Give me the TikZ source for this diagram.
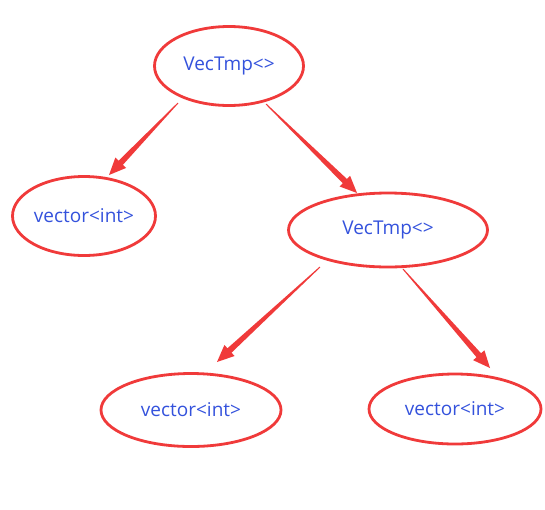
\documentclass[tikz,border=0pt]{standalone}
\usepackage{fontspec}
\setmainfont{Open Sans}
\usetikzlibrary{shapes.geometric,calc}
\definecolor{lred}{RGB}{240,58,58}
\definecolor{tblue}{RGB}{52,82,220}
\begin{document}
\begin{tikzpicture}[x=1pt,y=-1pt,
  oval/.style={ellipse,draw=lred,line width=2.8pt,inner sep=0pt,text=tblue,font=\fontsize{19}{22}\selectfont},
  arr/.style={fill=lred,draw=none}]
\useasboundingbox (0,0) rectangle (545,509);
\node[oval,minimum width=149,minimum height=79] (n1) at (229,66) {VecTmp<>};
\node[oval,minimum width=143,minimum height=79] (n2) at (84,216) {vector<int>};
\node[oval,minimum width=199,minimum height=74] (n3) at (388,230) {VecTmp<>};
\node[oval,minimum width=180,minimum height=73] (n4) at (191,410) {vector<int>};
\node[oval,minimum width=172,minimum height=70] (n5) at (455,409) {vector<int>};
\coordinate (s1) at (178,103); \coordinate (e1) at (109,175);
\coordinate (s2) at (266,104); \coordinate (e2) at (357,193);
\coordinate (s3) at (320,267); \coordinate (e3) at (217,362);
\coordinate (s4) at (403,269); \coordinate (e4) at (490,368);
\foreach \s/\e in {s1/e1,s2/e2,s3/e3,s4/e4}{
  \coordinate (b) at ($(\e)!17pt!(\s)$);
  \fill[arr] ($(\s)!0.5pt!90:(\e)$) -- ($(b)!3pt!90:(\e)$) -- ($(b)!7.5pt!90:(\e)$)
    -- (\e) -- ($(b)!7.5pt!-90:(\e)$) -- ($(b)!3pt!-90:(\e)$) -- ($(\s)!0.5pt!-90:(\e)$) -- cycle;
}
\end{tikzpicture}
\end{document}
